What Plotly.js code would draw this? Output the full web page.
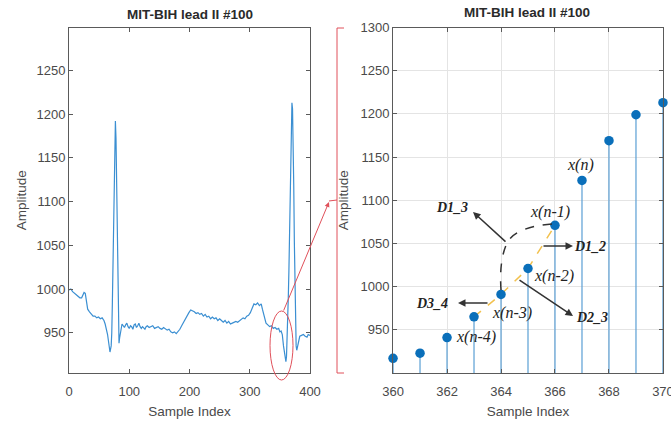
<!DOCTYPE html>
<html><head><meta charset="utf-8">
<script src="https://cdn.plot.ly/plotly-3.0.1.min.js"></script>
<style>html,body{margin:0;padding:0;background:#fff}#chart{width:671px;height:421px}</style>
</head><body><div id="chart"></div>
<script>
// ---- data ----
const ecgIndex = [0,3,6,9,12,15,18,21,23,25,27,29,31,34,37,40,43,46,49,52,55,58,60,62,64,66,68,70,71,72,73,74,75,76,77,78,79,80,81,82,83,84,86,88,90,92,94,96,98,100,102,104,106,108,110,112,114,116,118,120,122,124,126,128,130,133,136,139,142,145,148,151,154,157,160,163,166,169,172,175,178,181,184,187,190,193,196,199,202,205,208,211,214,217,220,223,226,229,232,235,238,241,244,247,250,253,256,259,262,265,268,271,274,277,280,283,286,289,292,295,298,301,304,307,310,313,316,319,321,323,325,327,330,333,336,339,342,345,348,350,352,354,356,358,359,360,361,362,363,364,365,366,367,368,369,370,371,372,373,374,375,376,377,378,379,381,383,386,389,392,395,397,400];
const ecgAmp = [999,1000,997,995,993,991,990,990,993,996,995,983,977,974,972,969,969,967,968,966,967,964,960,955,948,938,928,935,950,985,1035,1095,1150,1180,1192,1172,1120,1055,995,952,938,944,955,960,958,956,959,961,957,955,958,957,954,959,960,956,958,961,957,955,957,956,954,957,958,956,957,958,955,956,957,955,954,956,954,953,954,951,950,951,949,951,954,958,962,966,969,973,976,975,974,972,973,971,972,969,971,968,969,966,968,966,967,964,966,964,962,964,961,963,960,961,962,963,962,964,965,967,966,969,970,973,978,983,982,984,981,983,977,972,966,961,959,957,958,955,956,954,955,951,952,948,935,922,918,917,923,941,965,991,1021,1071,1123,1169,1199,1213,1206,1175,1120,1055,995,955,935,930,934,941,946,947,948,946,945,948,947];
const stemIndex = [360,361,362,363,364,365,366,367,368,369,370];
const stemAmp = [917,923,941,965,991,1021,1071,1123,1169,1199,1213];
const leftXTicks = [0,100,200,300,400];
const leftYTicks = [950,1000,1050,1100,1150,1200,1250];
const rightXTicks = [360,362,364,366,368,370];
const rightYTicks = [950,1000,1050,1100,1150,1200,1250,1300];
const chartTitle = 'MIT-BIH lead II #100';
const xTitle = 'Sample Index';
const yTitle = 'Amplitude';
const pointLabels = ['x(n-4)','x(n-3)','x(n-2)','x(n-1)','x(n)'];
const diffLabels = ['D1_3','D1_2','D2_3','D3_4'];

// ---- layout helpers ----
const W = 671, H = 421;
const P = (px, py) => ({x: px / W, y: 1 - py / H});
const rightRange = [900, 1300];
const base = rightRange[0];

// stems built from data
const stemX = [], stemY = [];
stemIndex.forEach((v, i) => { stemX.push(v, v, null); stemY.push(base, stemAmp[i], null); });

const sans = 'Liberation Sans, Arial, sans-serif';
const serif = 'Liberation Serif, Times New Roman, serif';
const axColor = '#5a5a5a';
const tickFont = {family: sans, size: 13, color: '#4a4a4a'};
const titleFont = {family: sans, size: 13.5, color: '#4a4a4a'};

const traces = [
  {x: ecgIndex, y: ecgAmp, type: 'scatter', mode: 'lines', xaxis: 'x', yaxis: 'y',
   line: {color: '#3b8fd2', width: 1.2}, hoverinfo: 'skip'},
  {x: stemX, y: stemY, type: 'scatter', mode: 'lines', xaxis: 'x2', yaxis: 'y2',
   line: {color: '#5a9fd4', width: 1.2}, hoverinfo: 'skip'},
  {x: stemIndex.slice(3, 7), y: stemAmp.slice(3, 7), type: 'scatter', mode: 'lines', xaxis: 'x2', yaxis: 'y2',
   line: {color: '#f2c14e', width: 1.5, dash: 'dash'}, hoverinfo: 'skip'},
  {x: stemIndex, y: stemAmp, type: 'scatter', mode: 'markers', xaxis: 'x2', yaxis: 'y2', cliponaxis: false,
   marker: {color: '#0a6fba', size: 9.5}, hoverinfo: 'skip'}
];

const axisCommon = {
  showline: true, linecolor: axColor, linewidth: 1, mirror: 'ticks',
  ticks: 'inside', ticklen: 4, tickcolor: axColor, zeroline: false,
  tickfont: tickFont, automargin: false, ticklabeloverflow: 'allow'
};

const ann = [];
function txt(text, px, py, font, extra) {
  const p = P(px, py);
  ann.push(Object.assign({xref: 'paper', yref: 'paper', x: p.x, y: p.y, text: text, showarrow: false,
    xanchor: 'center', yanchor: 'middle', font: font}, extra || {}));
}
function arrow(hx, hy, tx, ty, color, width) {
  const p = P(hx, hy);
  ann.push({xref: 'paper', yref: 'paper', x: p.x, y: p.y, ax: tx - hx, ay: ty - hy, text: '',
    showarrow: true, arrowhead: 2, arrowsize: 1, arrowwidth: width, arrowcolor: color});
}
// subplot titles
txt('<b>' + chartTitle + '</b>', 190, 14, {family: sans, size: 13.5, color: '#2a2a2a'});
txt('<b>' + chartTitle + '</b>', 527, 13, {family: sans, size: 13.5, color: '#2a2a2a'});
// point labels
const xlFont = {family: serif, size: 16, color: '#222'};
const xlPos = [[476,337],[512,313],[554,276],[550,212],[580,165]];
pointLabels.forEach((t, i) => txt('<i>' + t + '</i>', xlPos[i][0], xlPos[i][1], xlFont));
// D labels
const dFont = {family: serif, size: 14, color: '#222'};
const dPos = [[452,207],[590,247],[592,317],[432,303]];
diffLabels.forEach((t, i) => txt('<b><i>' + t + '</i></b>', dPos[i][0], dPos[i][1], dFont));
// arrows
arrow(473, 212, 507, 243, '#333', 1.5);
arrow(573, 246, 542, 246, '#333', 1.5);
arrow(573, 316, 518, 279, '#333', 1.5);
arrow(458, 303, 489, 303, '#333', 1.5);
// red zoom arrow
arrow(329, 202, 283, 312, '#e0505a', 1);

function path(pts) {
  return pts.map(seg => {
    let s = seg[0];
    for (let i = 1; i < seg.length; i += 2) { const p = P(seg[i], seg[i+1]); s += ' ' + p.x.toFixed(5) + ',' + p.y.toFixed(5); }
    return s;
  }).join(' ');
}
const e0 = P(270, 311), e1 = P(293, 380);
const shapes = [
  {type: 'path', xref: 'paper', yref: 'paper',
   path: path([['M',552,224],['Q',515,227,507,243],['Q',499,260,501,290]]),
   line: {color: '#333', width: 1.5, dash: 'dash'}},
  {type: 'circle', xref: 'paper', yref: 'paper', x0: e0.x, x1: e1.x, y0: e1.y, y1: e0.y,
   line: {color: '#e0505a', width: 1}},
  {type: 'path', xref: 'paper', yref: 'paper',
   path: path([['M',344,28],['L',337,28],['L',337,373],['L',344,373]]),
   line: {color: '#e0505a', width: 1}},
  {type: 'path', xref: 'paper', yref: 'paper',
   path: path([['M',329,201],['L',337,200]]),
   line: {color: '#e0505a', width: 1}}
];

const yDom = [1 - 373 / H, 1 - 27.5 / H];
const layout = {
  width: W, height: H, margin: {l: 0, r: 0, t: 0, b: 0},
  paper_bgcolor: '#fff', plot_bgcolor: '#fff', showlegend: false,
  xaxis: Object.assign({}, axisCommon, {domain: [69 / W, 310 / W], range: [0, 400], tickvals: leftXTicks,
    showgrid: false, ticklabelstandoff: 6, title: {text: xTitle, font: titleFont, standoff: 8}}),
  yaxis: Object.assign({}, axisCommon, {domain: yDom, range: [904, 1299], tickvals: leftYTicks,
    showgrid: false, title: {text: yTitle, font: titleFont, standoff: 6}}),
  xaxis2: Object.assign({}, axisCommon, {domain: [393 / W, 663 / W], range: [359.999, 370.001], tickvals: rightXTicks,
    anchor: 'y2', showgrid: true, gridcolor: '#e4e4e4', ticklabelstandoff: 6,
    title: {text: xTitle, font: titleFont, standoff: 8}}),
  yaxis2: Object.assign({}, axisCommon, {domain: yDom, range: rightRange, tickvals: rightYTicks,
    anchor: 'x2', showgrid: true, gridcolor: '#e4e4e4', title: {text: yTitle, font: titleFont, standoff: 8}}),
  annotations: ann, shapes: shapes
};
Plotly.newPlot('chart', traces, layout, {displayModeBar: false, staticPlot: true});
</script></body></html>
